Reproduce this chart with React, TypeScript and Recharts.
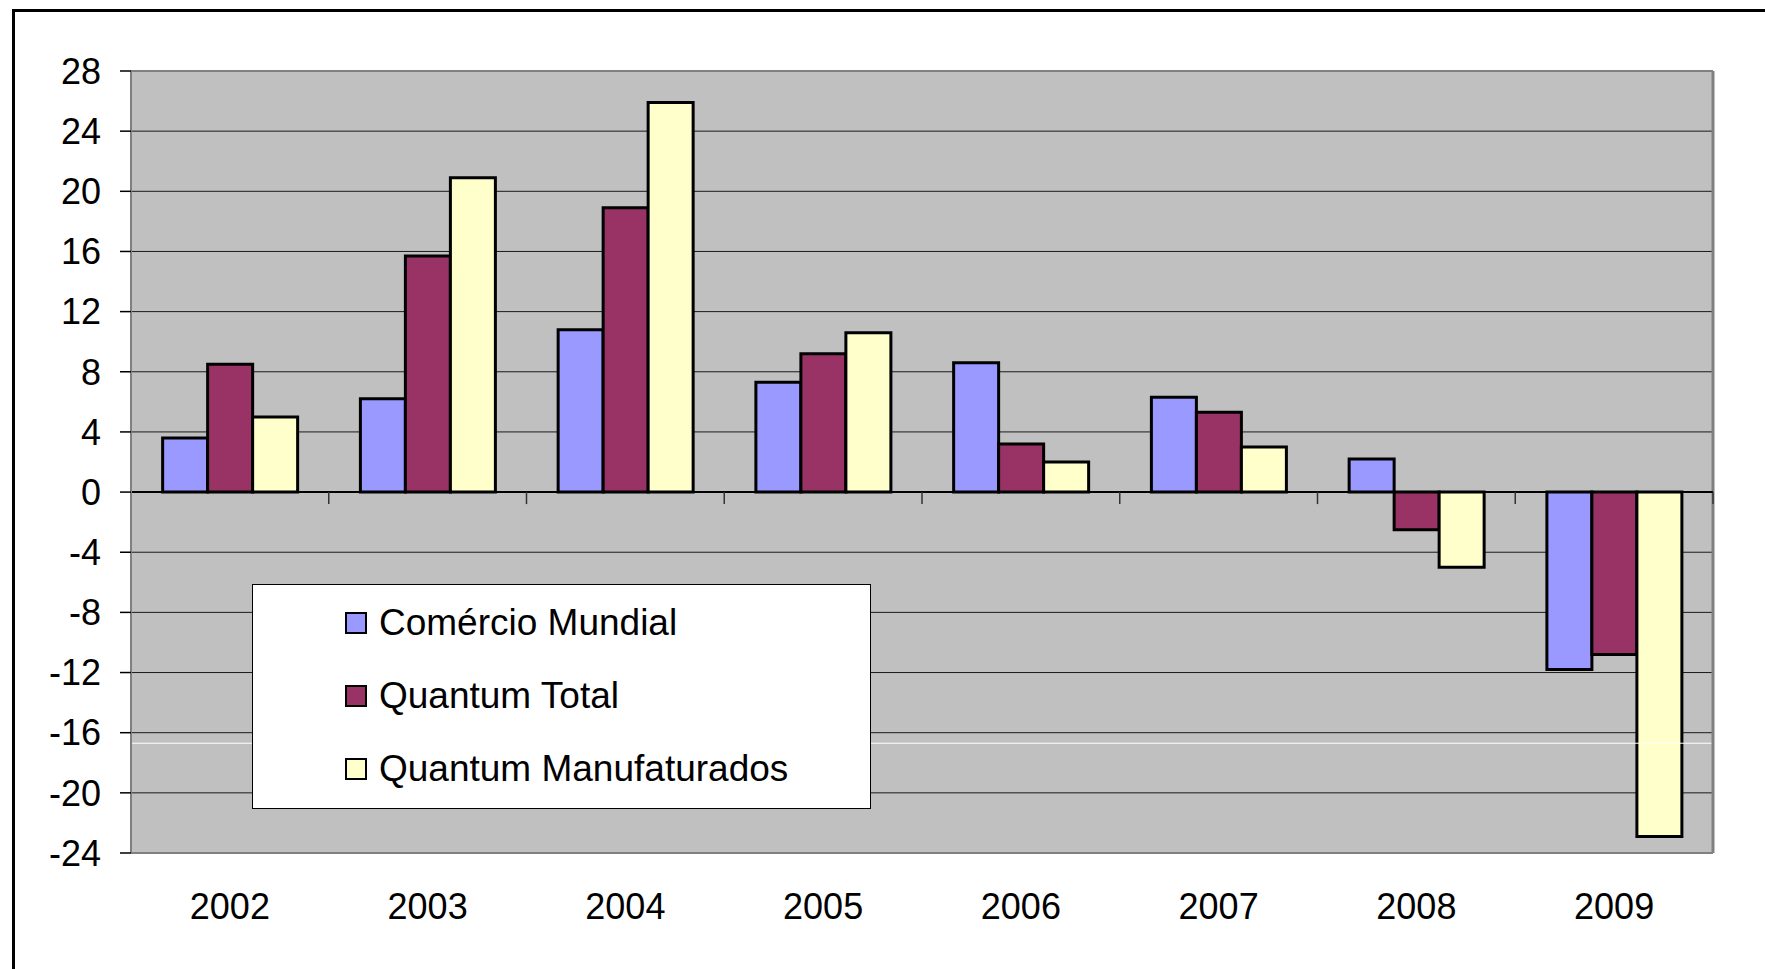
import {
  BarChart,
  Bar,
  XAxis,
  YAxis,
  CartesianGrid,
  ReferenceLine,
  Legend,
} from 'recharts'

const years = ['2002', '2003', '2004', '2005', '2006', '2007', '2008', '2009']
const comercioMundial = [3.6, 6.2, 10.8, 7.3, 8.6, 6.3, 2.2, -11.8]
const quantumTotal = [8.5, 15.7, 18.9, 9.2, 3.2, 5.3, -2.5, -10.8]
const quantumManufaturados = [5.0, 20.9, 25.9, 10.6, 2.0, 3.0, -5.0, -22.9]
const yTicks = [-24, -20, -16, -12, -8, -4, 0, 4, 8, 12, 16, 20, 24, 28]

const SERIES = [
  { key: 'comercio', name: 'Comércio Mundial', color: '#9999FF' },
  { key: 'total', name: 'Quantum Total', color: '#993366' },
  { key: 'manuf', name: 'Quantum Manufaturados', color: '#FFFFCC' },
]

const data = years.map((year, i) => ({
  year,
  pos: i + 0.5,
  comercio: comercioMundial[i],
  total: quantumTotal[i],
  manuf: quantumManufaturados[i],
}))

const FONT = '"Liberation Sans", Arial, sans-serif'

function LegendBox(props: any) {
  const payload = props.payload || []
  // keep series order rather than the legend's sorted order
  const ordered = SERIES.map((s) => payload.find((p: any) => p.value === s.name)).filter(Boolean)
  return (
    <div
      style={{
        width: 617,
        height: 223,
        background: '#fff',
        border: '1px solid #000',
        boxSizing: 'content-box',
        fontFamily: FONT,
        position: 'relative',
      }}
    >
      {ordered.map((entry: any, i: number) => (
        <div
          key={entry.value}
          style={{
            position: 'absolute',
            left: 92,
            top: 38 + i * 73 - 12,
            height: 24,
            display: 'flex',
            alignItems: 'center',
            whiteSpace: 'nowrap',
          }}
        >
          <span
            style={{
              display: 'inline-block',
              width: 18,
              height: 18,
              background: entry.color,
              border: '2px solid #000',
              marginRight: 12,
            }}
          />
          <span style={{ fontSize: 37, color: '#000', lineHeight: '24px' }}>{entry.value}</span>
        </div>
      ))}
    </div>
  )
}

export default function App() {
  return (
    <div style={{ position: 'absolute', left: 0, top: 0, width: 1765, height: 969, background: '#fff', overflow: 'hidden' }}>
      {/* outer frame: only left and top edges fall inside the page */}
      <div
        style={{
          position: 'absolute',
          left: 12,
          top: 9,
          width: 1800,
          height: 1000,
          borderLeft: '3px solid #000',
          borderTop: '3px solid #000',
        }}
      />
      <div style={{ position: 'absolute', left: 0, top: 0 }}>
        <BarChart
          width={1765}
          height={969}
          data={data}
          margin={{ top: 71, right: 52, bottom: 0, left: 0 }}
          barCategoryGap="16%"
          barGap={0}
        >
          <CartesianGrid vertical={false} stroke="#1a1a1a" strokeWidth={1} fill="#C0C0C0" fillOpacity={1} />
          <XAxis
            dataKey="year"
            height={116}
            axisLine={false}
            tickLine={false}
            tickSize={0}
            tickMargin={40}
            tick={{ fontSize: 36, fill: '#000', fontFamily: FONT }}
            interval={0}
          />
          <XAxis xAxisId="band" type="number" dataKey="pos" domain={[0, 8]} allowDataOverflow hide />
          <YAxis
            width={131}
            domain={[-24, 28]}
            ticks={yTicks}
            interval={0}
            allowDataOverflow
            axisLine={{ stroke: '#808080', strokeWidth: 2 }}
            tickLine={{ stroke: '#000', strokeWidth: 1.5 }}
            tickSize={11}
            tickMargin={19}
            tick={{ fontSize: 36, fill: '#000', fontFamily: FONT }}
          />
          <ReferenceLine y={-16.7} stroke="#ffffff" strokeWidth={1} />
          <ReferenceLine y={28} stroke="#808080" strokeWidth={2} />
          <ReferenceLine y={-24} stroke="#808080" strokeWidth={2} />
          <ReferenceLine xAxisId="band" x={8} stroke="#808080" strokeWidth={3} />
          {SERIES.map((s) => (
            <Bar
              key={s.key}
              dataKey={s.key}
              name={s.name}
              fill={s.color}
              stroke="#000"
              strokeWidth={3}
              isAnimationActive={false}
            />
          ))}
          <ReferenceLine y={0} stroke="#000" strokeWidth={2} />
          {[1, 2, 3, 4, 5, 6, 7, 8].map((b) => (
            <ReferenceLine
              key={b}
              xAxisId="band"
              segment={[
                { x: b, y: 0 },
                { x: b, y: -0.8 },
              ]}
              stroke="#333"
              strokeWidth={1.5}
            />
          ))}
          <Legend
            layout="vertical"
            align="center"
            verticalAlign="middle"
            content={<LegendBox />}
            wrapperStyle={{ left: 252, top: 584, width: 619, height: 225 }}
          />
        </BarChart>
      </div>
    </div>
  )
}
